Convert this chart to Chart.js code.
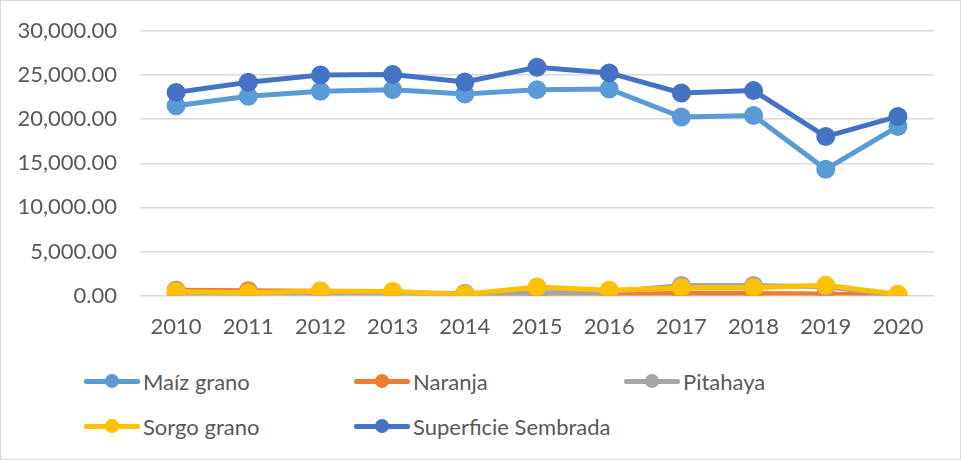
<!DOCTYPE html>
<html>
<head>
<meta charset="utf-8">
<script src="https://cdn.jsdelivr.net/npm/chart.js@4"></script>
<style>
  body { margin: 0; background: #fff; }
  #wrap {
    position: relative; width: 959px; height: 458px;
    border: 1px solid #d9d9d9; background: #fff;
    font-family: Lato, "Open Sans", sans-serif;
  }
  #box { position: absolute; left: 0; top: 0; width: 959px; height: 365px; }
  #legend {
    position: absolute; left: 83px; top: 366px;
    display: grid; grid-template-columns: 270px 270px 270px;
    grid-auto-rows: 45px;
  }
  .item { display: flex; align-items: center; height: 28px; color: #595959; font-size: 22px; }
  .sym { position: relative; width: 56px; height: 20px; margin-right: 3px; }
  .sym .ln { position: absolute; left: 0; right: 0; top: 8px; height: 5px; border-radius: 2px; }
  .sym .dot { position: absolute; left: 21px; top: 3px; width: 14px; height: 14px; border-radius: 50%; }
</style>
</head>
<body>
<div id="wrap">
  <div id="box"><canvas id="chart"></canvas></div>
  <div id="legend"></div>
</div>
<script>
var years = ['2010', '2011', '2012', '2013', '2014', '2015', '2016', '2017', '2018', '2019', '2020'];

var maiz = [21530, 22590, 23160, 23350, 22860, 23350, 23430, 20240, 20420, 14320, 19170];
var naranja = [620, 560, 480, 380, 160, 120, 110, 280, 230, 180, 20];
var pitahaya = [120, 110, 160, 200, 280, 320, 380, 1150, 1150, 1000, 40];
var sorgo = [460, 320, 520, 460, 150, 980, 600, 880, 880, 1160, 160];
var superficie = [23040, 24180, 25020, 25060, 24220, 25890, 25250, 22970, 23240, 18030, 20310];

var yTicks = [0, 5000, 10000, 15000, 20000, 25000, 30000];

function serie(label, data, color, order) {
    return {
        label: label,
        data: data,
        borderColor: color,
        backgroundColor: color,
        pointBackgroundColor: color,
        pointBorderColor: color,
        borderWidth: 5,
        pointRadius: 7,
        pointHoverRadius: 7,
        tension: 0,
        order: order
    };
}

var datasets = [
    serie('Maíz grano', maiz, '#5B9BD5', 5),
    serie('Naranja', naranja, '#ED7D31', 4),
    serie('Pitahaya', pitahaya, '#A5A5A5', 3),
    serie('Sorgo grano', sorgo, '#FFC000', 2),
    serie('Superficie Sembrada', superficie, '#4472C4', 1)
];

var chart = new Chart(document.getElementById('chart'), {
    type: 'line',
    data: { labels: years, datasets: datasets },
    options: {
        responsive: true,
        maintainAspectRatio: false,
        animation: false,
        layout: { padding: { top: 30, right: 26, bottom: 8, left: 0 } },
        plugins: {
            legend: { display: false },
            tooltip: { enabled: false }
        },
        scales: {
            x: {
                offset: true,
                grid: { display: false, drawTicks: false },
                border: { display: false },
                ticks: {
                    color: '#595959',
                    padding: 18,
                    font: { family: 'Lato', size: 22 },
                    maxRotation: 0
                }
            },
            y: {
                min: 0,
                max: 30000,
                afterBuildTicks: function (scale) {
                    scale.ticks = yTicks.map(function (v) { return { value: v }; });
                },
                afterFit: function (scale) {
                    scale.width = 139;
                    scale.paddingTop = 0;
                },
                grid: { color: '#d9d9d9', lineWidth: 1.5, drawTicks: false },
                border: { display: false },
                ticks: {
                    color: '#595959',
                    padding: 23,
                    font: { family: 'Lato', size: 22 },
                    callback: function (v) {
                        return v.toLocaleString('en-US', { minimumFractionDigits: 2, maximumFractionDigits: 2 });
                    }
                }
            }
        }
    }
});

// legend in the Excel grid layout
var legend = document.getElementById('legend');
datasets.forEach(function (ds) {
    var item = document.createElement('div');
    item.className = 'item';
    item.innerHTML = '<span class="sym"><span class="ln" style="background:' + ds.borderColor + '"></span>' +
        '<span class="dot" style="background:' + ds.borderColor + '"></span></span>' + ds.label;
    legend.appendChild(item);
});
</script>
</body>
</html>
